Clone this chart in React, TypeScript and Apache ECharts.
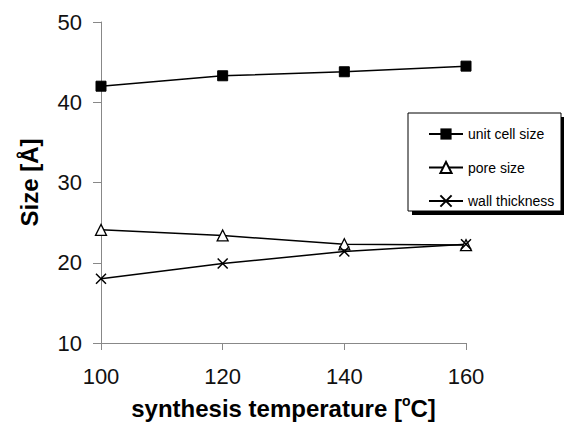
import React, { useEffect, useRef } from "react";
import * as echarts from "echarts";

const temperatures = [100, 120, 140, 160];
const unitCellSize = [42.0, 43.3, 43.8, 44.5];
const poreSize = [24.1, 23.4, 22.3, 22.2];
const wallThickness = [18.0, 19.9, 21.4, 22.3];
const seriesNames = ["unit cell size", "pore size", "wall thickness"];

const CROSS = "path://M0,0L10,10M10,0L0,10";
const FONT = "Liberation Sans, Arial, sans-serif";

export default function App() {
  const ref = useRef<HTMLDivElement>(null);
  useEffect(() => {
    document.body.style.margin = "0";
    const chart = echarts.init(ref.current!, null, { renderer: "svg" });
    const pair = (vals: number[]) => temperatures.map((t, i) => [t, vals[i]]);
    const lineStyle = { color: "#000", width: 1.5 };
    chart.setOption({
      animation: false,
      backgroundColor: "#fff",
      textStyle: { fontFamily: FONT },
      grid: { left: 101, right: 98, top: 22, bottom: 83 },
      xAxis: {
        type: "value",
        min: 100,
        max: 160,
        interval: 20,
        name: "synthesis temperature [{sup|o}C]",
        nameLocation: "middle",
        nameGap: 51,
        nameTextStyle: {
          fontSize: 24,
          fontWeight: "bold",
          color: "#000",
          fontFamily: FONT,
          rich: {
            sup: { fontSize: 14, fontWeight: "bold", verticalAlign: "top", padding: [0, 0, 14, 0], color: "#000", fontFamily: FONT },
          },
        },
        axisLine: { lineStyle: { color: "#888", width: 1 } },
        axisTick: { show: true, length: 7, lineStyle: { color: "#888" } },
        axisLabel: { fontSize: 22, color: "#111", margin: 22, fontFamily: FONT },
        splitLine: { show: false },
      },
      yAxis: {
        type: "value",
        min: 10,
        max: 50,
        interval: 10,
        name: "Size [Å]",
        nameLocation: "middle",
        nameGap: 60,
        nameTextStyle: { fontSize: 24, fontWeight: "bold", color: "#000", fontFamily: FONT },
        axisLine: { show: true, lineStyle: { color: "#888", width: 1 } },
        axisTick: { show: true, length: 8, lineStyle: { color: "#888" } },
        axisLabel: { fontSize: 22, color: "#111", margin: 19, fontFamily: FONT },
        splitLine: { show: false },
      },
      legend: {
        orient: "vertical",
        left: 423,
        top: 122,
        itemWidth: 34,
        itemHeight: 14,
        itemGap: 19.5,
        textStyle: { fontSize: 14, color: "#000", fontFamily: FONT },
        data: seriesNames,
        z: 10,
      },
      graphic: [
        { type: "rect", shape: { x: 412, y: 117, width: 153, height: 98 }, style: { fill: "#000" }, z: 1 },
        { type: "rect", shape: { x: 408, y: 113, width: 153, height: 98 }, style: { fill: "#fff", stroke: "#000", lineWidth: 1 }, z: 2 },
      ],
      series: [
        {
          name: seriesNames[0],
          type: "line",
          data: pair(unitCellSize),
          symbol: "rect",
          symbolSize: 10,
          lineStyle,
          itemStyle: { color: "#000", borderColor: "#000" },
          z: 5,
        },
        {
          name: seriesNames[1],
          type: "line",
          data: pair(poreSize),
          symbol: "triangle",
          symbolSize: 11,
          lineStyle,
          itemStyle: { color: "#fff", borderColor: "#000", borderWidth: 1.3 },
          z: 5,
        },
        {
          name: seriesNames[2],
          type: "line",
          data: pair(wallThickness),
          symbol: CROSS,
          symbolSize: 10,
          lineStyle,
          itemStyle: { color: "#000", borderColor: "#000", borderWidth: 1.5 },
          z: 5,
        },
      ],
    });
    return () => chart.dispose();
  }, []);
  return <div ref={ref} style={{ width: 564, height: 426 }} />;
}
